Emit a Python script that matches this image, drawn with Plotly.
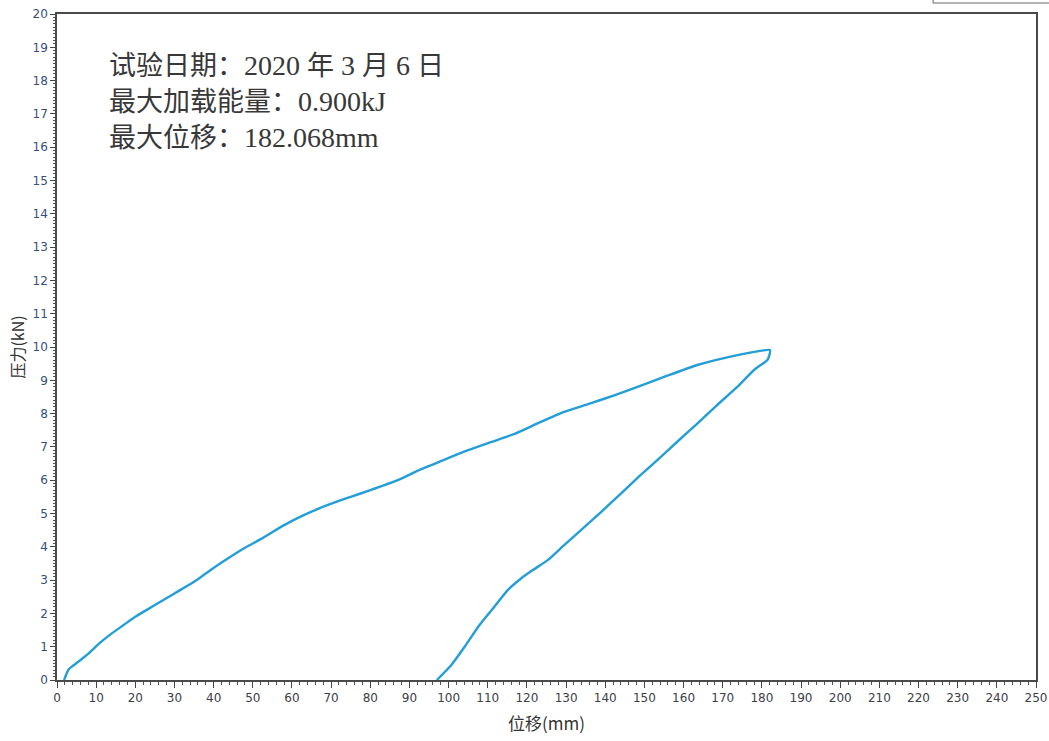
import re
import plotly.graph_objects as go

# Loading branch: displacement (mm) and force (kN)
load_disp = [1.8, 3.0, 4.0, 6.0, 8.1, 11.0, 14.0, 17.0, 20.0, 25.0, 30.0, 35.0,
             38.0, 43.0, 48.0, 52.0, 58.0, 63.0, 69.0, 75.0, 80.0, 87.0, 93.0,
             99.0, 105.0, 111.0, 117.0, 123.0, 129.5, 136.0, 142.3, 148.6,
             155.0, 163.5, 172.0, 177.0, 180.0, 182.07]
load_force = [0.0, 0.32, 0.42, 0.6, 0.8, 1.12, 1.4, 1.65, 1.9, 2.25, 2.6, 2.95,
              3.2, 3.6, 3.97, 4.23, 4.65, 4.95, 5.25, 5.5, 5.7, 6.0, 6.33,
              6.62, 6.9, 7.15, 7.4, 7.72, 8.05, 8.3, 8.55, 8.82,
              9.1, 9.46, 9.71, 9.83, 9.89, 9.91]

# Unloading branch
unload_disp = [181.9, 181.4, 178.0, 173.7, 168.5, 163.5, 158.8, 154.2, 149.0,
               144.0, 139.0, 133.8, 129.5, 125.3, 121.5, 118.5, 115.1, 111.7,
               107.9, 104.1, 100.7, 97.0]
unload_force = [9.75, 9.61, 9.31, 8.8, 8.25, 7.7, 7.2, 6.7, 6.15,
                5.6, 5.05, 4.5, 4.05, 3.6, 3.3, 3.05, 2.7, 2.2,
                1.65, 1.0, 0.45, 0.0]

info_lines = ["试验日期：2020 年 3 月 6 日",
              "最大加载能量：0.900kJ",
              "最大位移：182.068mm"]

x_ticks = list(range(0, 251, 10))
y_ticks = list(range(0, 21, 1))


def mixed_font(text):
    # Latin runs (digits, units, spaces) in a serif face, CJK in the base font
    return re.sub(
        r"[ -~]+",
        lambda m: ('<span style="font-family:Liberation Serif;font-size:28px">'
                   + m.group(0) + "</span>"),
        text,
    )


fig = go.Figure()
fig.add_trace(go.Scatter(
    x=load_disp + unload_disp,
    y=load_force + unload_force,
    mode="lines",
    line=dict(color="#239ed8", width=2.4, shape="spline", smoothing=0.6),
    showlegend=False,
))

fig.update_layout(
    width=1049, height=741,
    margin=dict(l=57, r=13, t=14, b=61),
    paper_bgcolor="white", plot_bgcolor="white",
    xaxis=dict(
        range=[0, 250], tickvals=x_ticks, ticktext=[str(v) for v in x_ticks],
        automargin=False,
        showgrid=False, zeroline=False,
        showline=True, linecolor="#4a4a4a", linewidth=1.5, mirror=True,
        ticks="outside", ticklen=6, tickcolor="#444", tickwidth=1,
        minor=dict(dtick=2, ticks="outside", ticklen=3, tickcolor="#555"),
        tickfont=dict(family="DejaVu Sans", size=12, color="#3c4048"),
        title=dict(text="位移(mm)", standoff=14,
                   font=dict(family="Noto Sans CJK SC", size=17, color="#333")),
    ),
    yaxis=dict(
        range=[0, 20], tickvals=y_ticks, ticktext=[str(v) for v in y_ticks],
        automargin=False,
        showgrid=False, zeroline=False,
        showline=True, linecolor="#4a4a4a", linewidth=1.5, mirror=True,
        ticks="outside", ticklen=5, tickcolor="#444", tickwidth=1,
        minor=dict(dtick=0.1, ticks="outside", ticklen=2, tickcolor="#555"),
        tickfont=dict(family="DejaVu Sans", size=12, color="#34507a"),
        title=dict(text="压力(kN)", standoff=4,
                   font=dict(family="Noto Sans CJK SC", size=16, color="#333")),
    ),
    annotations=[
        dict(xref="paper", yref="paper", x=0.051, y=0.926 - i * 0.054,
             xanchor="left", yanchor="middle", showarrow=False,
             text=mixed_font(line),
             font=dict(family="Noto Sans CJK SC", size=27, color="#383838"))
        for i, line in enumerate(info_lines)
    ],
    shapes=[
        dict(type="rect", xref="paper", yref="paper",
             x0=0.895, x1=1.03, y0=1.0165, y1=1.05,
             line=dict(color="#9a9a9a", width=1.5), fillcolor="white",
             layer="above"),
    ],
)

fig.write_html("out.html")
